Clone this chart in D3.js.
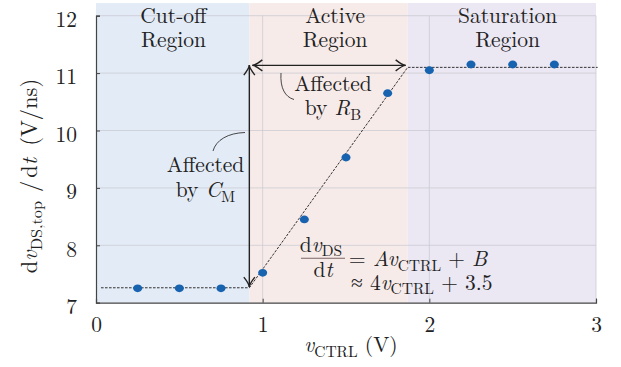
<!DOCTYPE html>
<html>
<head>
<meta charset="utf-8">
<script src="https://cdn.jsdelivr.net/npm/d3@7"></script>
<style>
  html, body { margin: 0; padding: 0; background: #fff; }
  svg { display: block; }
  text { white-space: pre; }
</style>
</head>
<body>
<svg id="chart" width="621" height="367"></svg>
<script>
// Measured slew rate of the top-switch drain-source voltage vs. control voltage
const vCtrl = [0.25, 0.5, 0.75, 1.0, 1.25, 1.5, 1.75, 2.0, 2.25, 2.5, 2.75];
const slewRate = [7.25, 7.25, 7.25, 7.52, 8.45, 9.53, 10.65, 11.05, 11.15, 11.15, 11.15];

// Piecewise model: flat floor, linear ramp, flat ceiling
const floorLevel = 7.26;
const ceilLevel = 11.1;
const kneeLow = 0.92;
const kneeHigh = 1.87;

// Operating regions
const regions = [
  { name: ["Cut-off", "Region"], from: 0, to: kneeLow, labelAt: 0.465, color: "#e3ebf6" },
  { name: ["Active", "Region"], from: kneeLow, to: kneeHigh, labelAt: 1.435, color: "#f6ebe9" },
  { name: ["Saturation", "Region"], from: kneeHigh, to: 3, labelAt: 2.47, color: "#ebe7f3" }
];

const xTicks = [0, 1, 2, 3];
const yTicks = [7, 8, 9, 10, 11, 12];

const FONT = '"Latin Modern Roman", "Liberation Serif", serif';
const FS = 21.5;

const svg = d3.select("#chart");
const x = d3.scaleLinear().domain([0, 3]).range([96, 596]);
const y = d3.scaleLinear().domain([7, 12]).range([302.7, 15.7]);
const regionTop = 12.22;

// rich text helper: parts are [text, kind, dx], kind: n normal, i italic, s subscript
function rich(sel, parts, size) {
  let cur = 0;
  parts.forEach(([t, k, dx]) => {
    const target = k === "s" ? size * 0.22 : 0;
    const ts = sel.append("tspan").text(t).attr("dy", target - cur);
    if (dx) ts.attr("dx", dx);
    cur = target;
    if (k === "i") ts.style("font-style", "italic");
    if (k === "s") ts.style("font-size", (size * 0.72) + "px");
  });
  return sel;
}
function txt(parent, size) {
  return parent.append("text").style("font-family", FONT).style("font-size", size + "px").attr("fill", "#222");
}

// region backgrounds
svg.append("g").selectAll("rect").data(regions).join("rect")
  .attr("x", d => x(d.from)).attr("width", d => x(d.to) - x(d.from))
  .attr("y", y(regionTop)).attr("height", y(7) - y(regionTop))
  .attr("fill", d => d.color);

// grid
const grid = svg.append("g").attr("stroke", "#c9c9d2").attr("stroke-opacity", 0.75).attr("stroke-width", 1);
grid.selectAll(".gy").data(yTicks.slice(1)).join("line")
  .attr("x1", x(0)).attr("x2", x(3)).attr("y1", d => y(d)).attr("y2", d => y(d));
grid.selectAll(".gx").data(xTicks.slice(1)).join("line")
  .attr("y1", y(7)).attr("y2", y(12)).attr("x1", d => x(d)).attr("x2", d => x(d));

// axes with inward ticks
const xAxis = svg.append("g").attr("transform", `translate(0,${y(7)})`)
  .call(d3.axisBottom(x).tickValues(xTicks).tickSize(-4).tickPadding(20).tickFormat(d3.format("d")));
const yAxis = svg.append("g").attr("transform", `translate(${x(0)},0)`)
  .call(d3.axisLeft(y).tickValues(yTicks).tickSize(-4).tickPadding(19).tickFormat(d3.format("d")));
[xAxis, yAxis].forEach(a => {
  a.select(".domain").attr("stroke", "#444").attr("stroke-width", 1.2);
  a.selectAll(".tick line").attr("stroke", "#444");
  a.selectAll(".tick text").style("font-size", "21.5px").attr("fill", "#222")
    .style("font-family", FONT);
});
xAxis.selectAll(".tick text").attr("dy", "0.45em");
yAxis.selectAll(".tick text").attr("dy", "0.5em");
xAxis.selectAll(".tick").filter(d => d === 0).select("line").remove();
yAxis.selectAll(".tick").filter(d => d === 7).select("line").remove();

// region labels
const rlg = svg.append("g");
regions.forEach(d => {
  const t = txt(rlg, FS).attr("text-anchor", "middle");
  t.append("tspan").attr("x", x(d.labelAt)).attr("y", 23).text(d.name[0]);
  t.append("tspan").attr("x", x(d.labelAt)).attr("y", 47).text(d.name[1]);
});

// fitted model (dashed)
const model = [[0.03, floorLevel], [kneeLow, floorLevel], [kneeHigh, ceilLevel], [3.01, ceilLevel]];
svg.append("path")
  .attr("d", d3.line().x(d => x(d[0])).y(d => y(d[1]))(model))
  .attr("fill", "none").attr("stroke", "#333").attr("stroke-width", 1)
  .attr("stroke-dasharray", "2.6,1.4");

// arrows
function arrowHead(g, tip, dir) {
  const L = 10, W = 5.5;
  const [dx, dy] = dir;
  const px = -dy, py = dx;
  g.append("path")
    .attr("d", `M${tip[0] - dx * L + px * W},${tip[1] - dy * L + py * W}` +
      ` Q${tip[0] - dx * 3},${tip[1] - dy * 3} ${tip[0]},${tip[1]}` +
      ` Q${tip[0] - dx * 3},${tip[1] - dy * 3} ${tip[0] - dx * L - px * W},${tip[1] - dy * L - py * W}`)
    .attr("fill", "none").attr("stroke", "#222").attr("stroke-width", 1.4);
}
const arrows = svg.append("g");
// vertical span: effect of C_M
const vA = [x(kneeLow), y(floorLevel) - 0.7], vB = [x(kneeLow), y(11.14)];
arrows.append("line").attr("x1", vA[0]).attr("y1", vA[1]).attr("x2", vB[0]).attr("y2", vB[1])
  .attr("stroke", "#222").attr("stroke-width", 1.4);
arrowHead(arrows, vA, [0, 1]);
arrowHead(arrows, vB, [0, -1]);
// horizontal span: effect of R_B
const hA = [x(kneeLow) + 3, y(11.135)], hB = [x(kneeHigh) - 2, y(11.135)];
arrows.append("line").attr("x1", hA[0]).attr("y1", hA[1]).attr("x2", hB[0]).attr("y2", hB[1])
  .attr("stroke", "#222").attr("stroke-width", 1.4);
arrowHead(arrows, hA, [-1, 0]);
arrowHead(arrows, hB, [1, 0]);

// measured points
svg.append("g").selectAll("ellipse").data(vCtrl).join("ellipse")
  .attr("cx", d => x(d)).attr("cy", (d, i) => y(slewRate[i]))
  .attr("rx", 4.5).attr("ry", 3.9).attr("fill", "#1763b0");

// annotations
const ann = svg.append("g");
const rb = txt(ann, FS).attr("text-anchor", "middle");
rb.append("tspan").attr("x", 333).attr("y", 91).text("Affected");
rich(rb.append("tspan").attr("x", 333).attr("y", 115), [["by ", "n"], ["R", "i"], ["B", "s"]], FS);
ann.append("path").attr("d", "M281,73 C280,88 285,97 294,99.5")
  .attr("fill", "none").attr("stroke", "#333").attr("stroke-width", 0.9);

const cm = txt(ann, FS).attr("text-anchor", "middle");
cm.append("tspan").attr("x", 205.5).attr("y", 171.5).text("Affected");
rich(cm.append("tspan").attr("x", 205.5).attr("y", 197), [["by ", "n"], ["C", "i"], ["M", "s"]], FS);
ann.append("path").attr("d", "M213,151 C216,140 228,133 245,132.5")
  .attr("fill", "none").attr("stroke", "#333").attr("stroke-width", 0.9);

// model equation
const eq = svg.append("g");
rich(txt(eq, FS).attr("x", 321).attr("y", 251.5).attr("text-anchor", "middle"),
  [["d", "n"], ["v", "i"], ["DS", "s"]], FS);
eq.append("line").attr("x1", 301).attr("x2", 345).attr("y1", 258.3).attr("y2", 258.3)
  .attr("stroke", "#7d6464").attr("stroke-width", 1.1);
rich(txt(eq, FS).attr("x", 323).attr("y", 277).attr("text-anchor", "middle"),
  [["d", "n"], ["t", "i"]], FS);
rich(txt(eq, FS).attr("x", 349).attr("y", 266),
  [["= ", "n"], ["Av", "i"], ["CTRL", "s"], [" + ", "n"], ["B", "i"]], FS);
rich(txt(eq, FS).attr("x", 351).attr("y", 289.5),
  [["≈ 4", "n"], ["v", "i"], ["CTRL", "s"], [" + 3.5", "n"]], FS);

// axis titles
rich(txt(svg, FS).attr("x", 351).attr("y", 352).attr("text-anchor", "middle"),
  [["v", "i"], ["CTRL", "s"], [" (V)", "n"]], FS);
rich(txt(svg, 22.5).attr("transform", "translate(37,176) rotate(-90)").attr("text-anchor", "middle"),
  [["d", "n"], ["v", "i"], ["DS,top", "s"], ["/", "n", 9], ["d", "n", 3], ["t", "i"], ["(V/ns)", "n", 12]], 22.5);
</script>
</body>
</html>
